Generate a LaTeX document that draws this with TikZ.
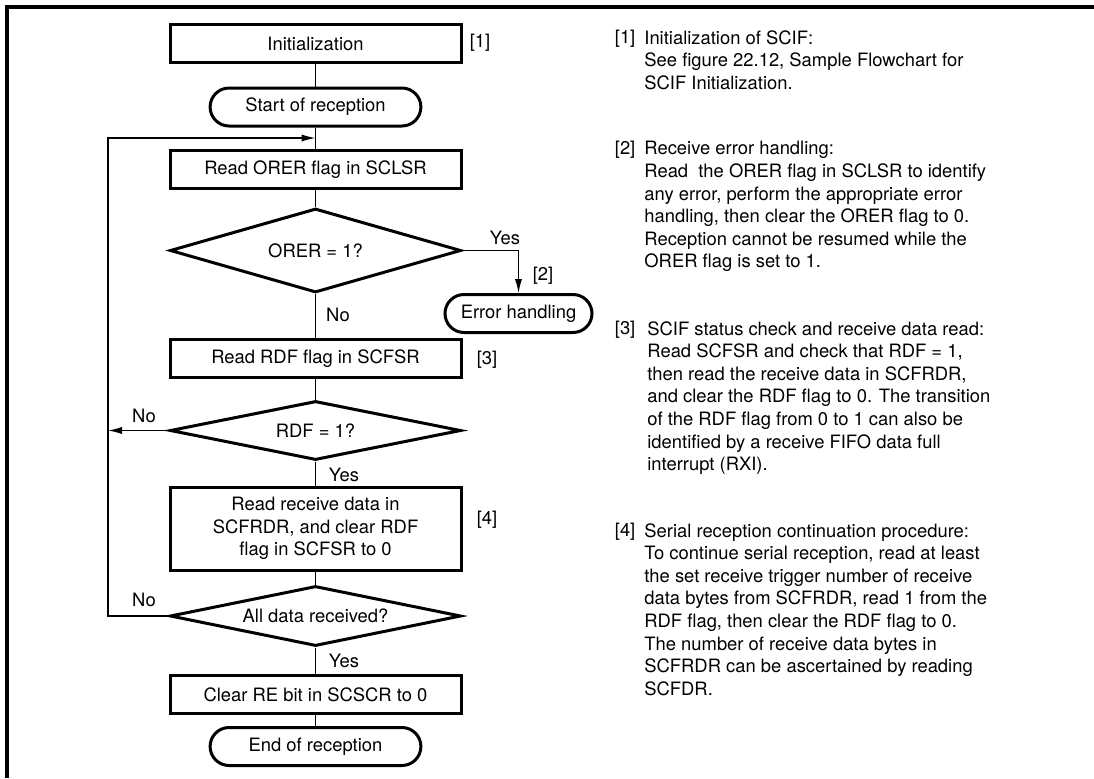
\documentclass[tikz,border=0pt]{standalone}
\usepackage{fontspec}
\setmainfont{TeX Gyre Heros}
\usetikzlibrary{shapes.geometric,arrows.meta}

\tikzset{
  proc/.style={draw,line width=1.5pt,minimum width=145.5pt,minimum height=19pt,inner sep=0pt,align=center},
  term/.style={draw,line width=1.5pt,rounded corners=9.5pt,minimum width=105.4pt,minimum height=19pt,inner sep=0pt},
  decide/.style={draw,line width=1.5pt,diamond,aspect=7,minimum width=145.5pt,inner sep=0pt},
  flow/.style={line width=.65pt},
  arr/.style={flow,-{Latex[length=7pt,width=3.6pt]}},
  tag/.style={inner sep=0pt},
  note/.style={inner sep=0pt,align=left,anchor=north west},
}

\begin{document}
\begin{tikzpicture}[x=0.5pt,y=-0.5pt,font=\fontsize{9.2}{11.3}\selectfont]
\useasboundingbox (0,0) rectangle (1094,778);
\draw[line width=2pt] (7,778) -- (7,7) -- (1094,7);

% flowchart
\node[proc] (init) at (315.5,43.5) {Initialization};
\node[term] (start) at (315.5,107) {Start of reception};
\node[proc] (rdorer) at (315.5,169.5) {Read ORER flag in SCLSR};
\node[decide,minimum height=42pt] (orer) at (315.5,250.5) {ORER = 1?};
\node[term,minimum width=73.5pt] (err) at (518.5,313.5) {Error handling};
\node[proc] (rdrdf) at (315.5,358.5) {Read RDF flag in SCFSR};
\node[decide,minimum height=29.5pt] (rdf) at (315.5,430.5) {RDF = 1?};
\node[proc,minimum height=41.5pt] (rddata) at (315.5,528.5) {Read receive data in\\SCFRDR, and clear RDF\\flag in SCFSR to 0};
\node[decide,minimum height=30pt] (alldata) at (315.5,616) {All data received?};
\node[proc] (clre) at (315.5,694.5) {Clear RE bit in SCSCR to 0};
\node[term] (endr) at (315.5,746.5) {End of reception};

\coordinate (join) at (315.5,138);
\coordinate (loop) at (108,138);

\draw[flow] (init) -- (start);
\draw[flow] (start) -- (rdorer);
\draw[flow] (rdorer) -- (orer);
\draw[flow] (orer) -- (rdrdf);
\draw[flow] (rdrdf) -- (rdf);
\draw[flow] (rdf) -- (rddata);
\draw[flow] (rddata) -- (alldata);
\draw[flow] (alldata) -- (clre);
\draw[flow] (clre) -- (endr);
\draw[arr] (orer.east) -| (err.north);
\draw[arr] (rdf.west) -- (rdf.west -| loop);
\draw[arr] (alldata.west) -| (loop) -- (join);

% labels
\node[tag] (t1) at (480,43) {[1]};
\node[tag] (t2) at (543,276) {[2]};
\node[tag] (t3) at (487,360) {[3]};
\node[tag] (t4) at (487,520) {[4]};
\node[tag] (yorer) at (505,238) {Yes};
\node[tag] (norer) at (338,315) {No};
\node[tag] (nrdf) at (144,416) {No};
\node[tag] (yrdf) at (344,475) {Yes};
\node[tag] (nall) at (144,600) {No};
\node[tag] (yall) at (344,661) {Yes};

% notes
\node[note] (n1l) at (614.5,30) {[1]};
\node[note] (n1) at (644,30) {Initialization of SCIF:\\See figure 22.12, Sample Flowchart for\\SCIF Initialization.};
\node[note] (n2l) at (614.5,141) {[2]};
\node[note] (n2) at (644,141) {Receive error handling:\\Read\ \ the ORER flag in SCLSR to identify\\any error, perform the appropriate error\\handling, then clear the ORER flag to 0.\\Reception cannot be resumed while the\\ORER flag is set to 1.};
\node[note] (n3l) at (614.5,321) {[3]};
\node[note] (n3) at (647,321) {SCIF status check and receive data read:\\Read SCFSR and check that RDF = 1,\\then read the receive data in SCFRDR,\\and clear the RDF flag to 0. The transition\\of the RDF flag from 0 to 1 can also be\\identified by a receive FIFO data full\\interrupt (RXI).};
\node[note] (n4l) at (614.5,523) {[4]};
\node[note] (n4) at (644,523) {Serial reception continuation procedure:\\To continue serial reception, read at least\\the set receive trigger number of receive\\data bytes from SCFRDR, read 1 from the\\RDF flag, then clear the RDF flag to 0.\\The number of receive data bytes in\\SCFRDR can be ascertained by reading\\SCFDR.};
\end{tikzpicture}
\end{document}
